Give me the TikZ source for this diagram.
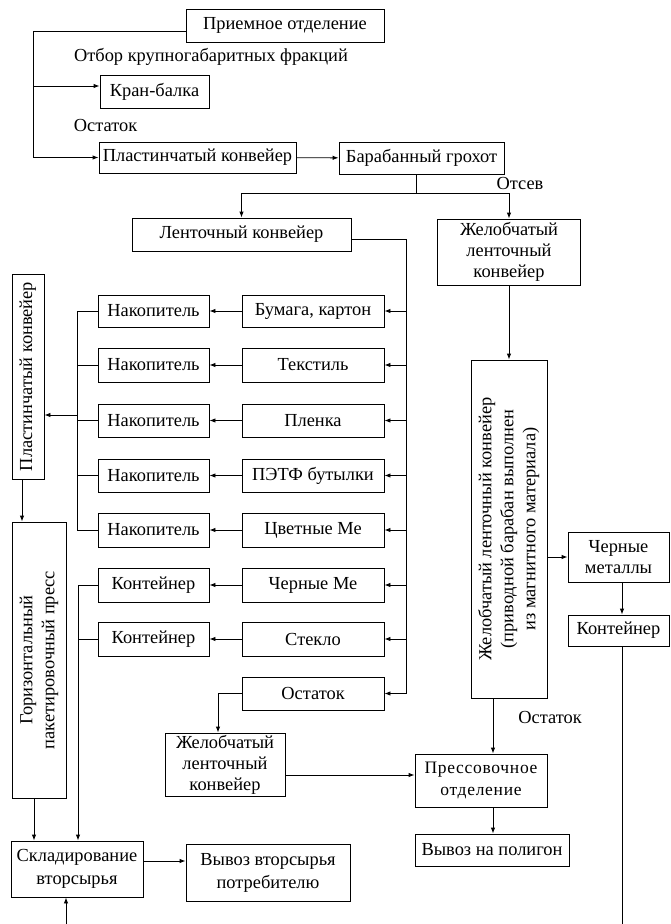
\documentclass[tikz,border=0pt]{standalone}
\usepackage{fontspec}
\setmainfont{Liberation Serif}
\usetikzlibrary{arrows.meta,calc}
\newcommand{\rtext}[1]{\rotatebox{90}{\begin{tabular}{@{}c@{}}#1\end{tabular}}}
\begin{document}
\begin{tikzpicture}[x=1pt,y=-1pt,
  box/.style={draw,line width=0.9pt,inner sep=1pt,align=center,font=\fontsize{18.4}{21}\selectfont},
  sbox/.style={box,font=\fontsize{17.5}{22}\selectfont},
  arr/.style={-{Latex[length=6pt,width=4.5pt]},line width=0.9pt},
  ln/.style={line width=0.9pt},
  lbl/.style={font=\fontsize{18.4}{21}\selectfont,inner sep=0pt}]
\fill[white] (0,0) rectangle (670,924);
\useasboundingbox (0,0) rectangle (670,924);

% top part
\node[box,minimum width=198pt,minimum height=33pt] (priem) at (285,25.5) {Приемное отделение};
\node[lbl] (otbor) at (211,57) {Отбор крупногабаритных фракций};
\node[box,minimum width=109pt,minimum height=33pt] (kran) at (154.5,91.5) {Кран-балка};
\node[lbl] (ost1) at (105.5,125) {Остаток};
\node[box,minimum width=197pt,minimum height=31pt] (plast) at (197.5,157.5) {Пластинчатый конвейер};
\node[box,minimum width=165pt,minimum height=32pt] (barab) at (421.5,158) {Барабанный грохот};
\node[lbl] (otsev) at (520,183) {Отсев};
\node[box,minimum width=219pt,minimum height=33pt] (lent) at (241.5,234.5) {Ленточный конвейер};
\node[box,minimum width=143pt,minimum height=66pt] (zhel1) at (509,252) {Желобчатый\\ленточный\\конвейер};

% right column of sorted fractions
\node[box,minimum width=142pt,minimum height=32pt] (bum) at (313,311) {Бумага, картон};
\node[box,minimum width=142pt,minimum height=34pt] (tex) at (313,365) {Текстиль};
\node[box,minimum width=142pt,minimum height=33pt] (plen) at (313,420.5) {Пленка};
\node[box,minimum width=142pt,minimum height=33pt] (petf) at (313,475.5) {ПЭТФ бутылки};
\node[box,minimum width=142pt,minimum height=34pt] (tsv) at (313,530) {Цветные Ме};
\node[box,minimum width=142pt,minimum height=34pt] (chm) at (313,585) {Черные Ме};
\node[box,minimum width=142pt,minimum height=34pt] (stek) at (313,639) {Стекло};
\node[box,minimum width=142pt,minimum height=33pt] (ost2) at (313,693.5) {Остаток};

% left column
\node[box,minimum width=111pt,minimum height=32pt] (nak1) at (153.5,311) {Накопитель};
\node[box,minimum width=111pt,minimum height=34pt] (nak2) at (153.5,365) {Накопитель};
\node[box,minimum width=111pt,minimum height=33pt] (nak3) at (153.5,420.5) {Накопитель};
\node[box,minimum width=111pt,minimum height=33pt] (nak4) at (153.5,475.5) {Накопитель};
\node[box,minimum width=111pt,minimum height=34pt] (nak5) at (153.5,530) {Накопитель};
\node[box,minimum width=111pt,minimum height=34pt] (kon1) at (153.5,585) {Контейнер};
\node[box,minimum width=111pt,minimum height=34pt] (kon2) at (153.5,639) {Контейнер};

% vertical boxes on the left
\node[box,minimum width=32pt,minimum height=205pt] (plast2) at (28,376.5) {\rtext{Пластинчатый конвейер}};
\node[box,minimum width=54pt,minimum height=276pt,font=\fontsize{18.4}{22}\selectfont] (goriz) at (39,660) {\rtext{Горизонтальный\\пакетировочный пресс}};

% right side
\node[box,minimum width=76pt,minimum height=338pt,font=\fontsize{18.4}{22}\selectfont] (zhelv) at (509,529) {\rtext{Желобчатый ленточный конвейер\\(приводной барабан выполнен\\из магнитного материала)}};
\node[box,minimum width=101pt,minimum height=50pt] (chmet) at (618.5,557) {Черные\\металлы};
\node[box,minimum width=101pt,minimum height=31pt] (konr) at (618.5,630.5) {Контейнер};

% bottom
\node[box,minimum width=120pt,minimum height=63pt] (zhel2) at (225,764.5) {Желобчатый\\ленточный\\конвейер};
\node[sbox,minimum width=132pt,minimum height=53pt] (press) at (481,780.5) {\addfontfeatures{LetterSpace=4}Прессовочное\\\addfontfeatures{LetterSpace=4}отделение};
\node[lbl] (ost3) at (550,717) {Остаток};
\node[box,minimum width=154pt,minimum height=32pt] (polyg) at (492,850) {Вывоз на полигон};
\node[box,minimum width=132pt,minimum height=56pt,font=\fontsize{18.4}{23}\selectfont] (skl) at (77,869) {Складирование\\вторсырья};
\node[box,minimum width=164pt,minimum height=57pt,font=\fontsize{18.4}{23}\selectfont] (vyv) at (268,872.5) {Вывоз вторсырья\\потребителю};

% helper coordinates
\coordinate (pl) at (33,31);
\coordinate (pk) at (33,86);
\coordinate (pb) at (33,157.5);
\coordinate (bs) at (416,193);
\coordinate (rr) at (406,239);
\coordinate (cl) at (77,311);
\coordinate (cl2) at (78,585);
\coordinate (cout) at (77,415);
\coordinate (konbot) at (622,924);
\coordinate (sklbot) at (66,924);

% connectors top
\draw[ln] (priem.west |- pl) -- (pl) -- (pb);
\draw[arr] (pk) -- (kran.west |- pk);
\draw[arr] (pb) -- (plast.west |- pb);
\draw[arr] (plast) -- (barab);
\draw[ln] (barab.south -| bs) -- (bs);
\draw[arr] (bs) -| (lent.north);
\draw[arr] (bs) -| (zhel1.north);
\draw[arr] (zhel1) -- (zhelv);

% distribution line
\draw[ln] (lent.east |- rr) -- (rr) -- (rr |- ost2);
\foreach \n in {bum,tex,plen,petf,tsv,chm,stek,ost2}
  \draw[arr] (rr |- \n) -- (\n.east);
\foreach \a/\b in {bum/nak1,tex/nak2,plen/nak3,petf/nak4,tsv/nak5,chm/kon1,stek/kon2}
  \draw[arr] (\a) -- (\b);

% collector of accumulators
\draw[ln] (nak1.west) -- (cl) -- (cl |- nak5) -- (nak5.west);
\foreach \n in {nak2,nak3,nak4}
  \draw[ln] (\n.west) -- (cl |- \n);
\draw[arr] (cout) -- (plast2.east |- cout);
\draw[arr] (plast2.south -| 22,0) -- (goriz.north -| 22,0);

% containers to storage
\draw[ln] (kon2.west) -- (cl2 |- kon2);
\draw[arr] (kon1.west) -- (cl2) -- (skl.north -| cl2);
\draw[arr] (goriz.south -| 34,0) -- (skl.north -| 34,0);
\draw[arr] (skl.east |- 0,861) -- (vyv.west |- 0,861);
\draw[arr] (sklbot) -- (skl.south -| sklbot);

% remainder branch
\draw[arr] (ost2.west) -| (zhel2.north -| 218,0);
\draw[arr] (zhel2.east |- 0,775) -- (press.west |- 0,775);
\draw[arr] (zhelv.south -| 493,0) -- (press.north -| 493,0);
\draw[arr] (press.south -| 493,0) -- (polyg.north -| 493,0);

% ferrous metals
\draw[arr] (zhelv.east |- chmet) -- (chmet.west);
\draw[arr] (chmet.south -| 622,0) -- (konr.north -| 622,0);
\draw[ln] (konr.south -| konbot) -- (konbot);
\end{tikzpicture}
\end{document}
